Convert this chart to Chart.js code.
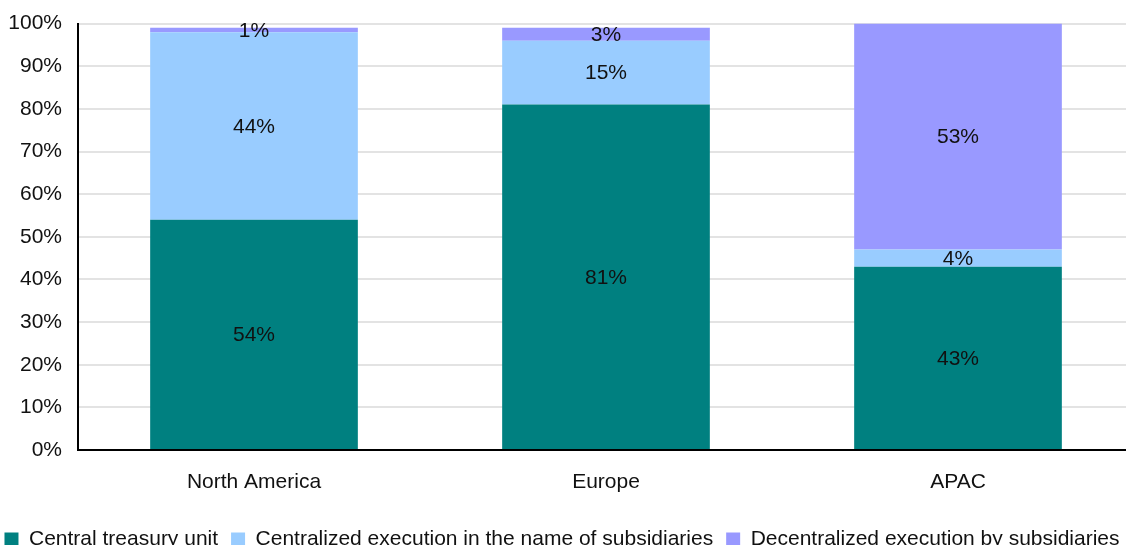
<!DOCTYPE html>
<html>
<head>
<meta charset="utf-8">
<script src="https://cdn.jsdelivr.net/npm/chart.js@4.4.1/dist/chart.umd.min.js"></script>
<style>
  html, body { margin: 0; padding: 0; background: #fff; overflow: hidden; }
  #wrap { width: 1230px; height: 565px; margin-left: -30px; margin-top: -5px; }
</style>
</head>
<body>
<div id="wrap"><canvas id="grafico" width="1230" height="565"></canvas></div>
<script>
const regioes = ["North America", "Europe", "APAC"];
const centralUnit = [54, 81, 43];
const centralizada = [44, 15, 4];
const descentralizada = [1, 3, 53];
const ticksY = [0, 10, 20, 30, 40, 50, 60, 70, 80, 90, 100];

const fonte = "'Liberation Sans', Arial, sans-serif";

// escreve o valor no meio de cada segmento
const rotulosBarras = {
  id: 'rotulosBarras',
  afterDatasetsDraw(chart) {
    const ctx = chart.ctx;
    ctx.save();
    ctx.font = '21px ' + fonte;
    ctx.fillStyle = '#111';
    ctx.textAlign = 'center';
    ctx.textBaseline = 'middle';
    chart.data.datasets.forEach((ds, i) => {
      chart.getDatasetMeta(i).data.forEach((barra, j) => {
        const y = (barra.y + barra.base) / 2;
        ctx.fillText(ds.data[j] + '%', barra.x, y + 1);
      });
    });
    ctx.restore();
  }
};

new Chart(document.getElementById('grafico'), {
  type: 'bar',
  data: {
    labels: regioes,
    datasets: [
      { label: 'Central treasury unit', data: centralUnit, backgroundColor: '#008080' },
      { label: 'Centralized execution in the name of subsidiaries', data: centralizada, backgroundColor: '#99CCFF' },
      { label: 'Decentralized execution by subsidiaries', data: descentralizada, backgroundColor: '#9999FF' }
    ]
  },
  options: {
    responsive: false,
    animation: false,
    barPercentage: 0.59,
    categoryPercentage: 1,
    layout: { padding: { top: 7, right: 66, left: 20, bottom: 0 } },
    plugins: {
      tooltip: { enabled: false },
      legend: {
        position: 'bottom',
        labels: {
          boxWidth: 14,
          boxHeight: 14,
          padding: 13,
          color: '#111',
          font: { family: fonte, size: 21 }
        }
      }
    },
    scales: {
      x: {
        stacked: true,
        grid: { display: false, drawTicks: false },
        border: { color: '#000', width: 2 },
        ticks: { color: '#111', padding: 20, font: { family: fonte, size: 21 } },
        afterFit: s => { s.height = 66; }
      },
      y: {
        stacked: true,
        min: 0,
        max: 100,
        afterBuildTicks: s => { s.ticks = ticksY.map(v => ({ value: v })); },
        grid: { color: '#e3e3e3', lineWidth: 2, drawTicks: false },
        border: { color: '#000', width: 2 },
        ticks: {
          color: '#111',
          padding: 16,
          font: { family: fonte, size: 21 },
          callback: v => v + '%'
        },
        afterFit: s => { s.width = 88; }
      }
    }
  },
  plugins: [rotulosBarras]
});
</script>
</body>
</html>
